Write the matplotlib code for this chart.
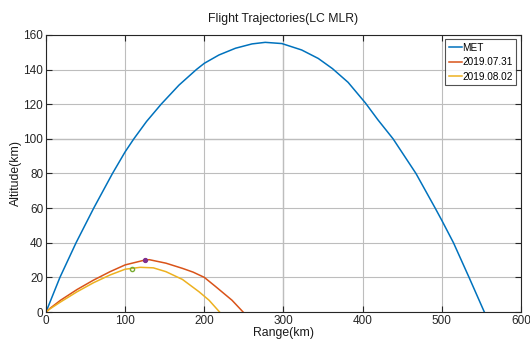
import matplotlib
matplotlib.use("Agg")
import matplotlib.pyplot as plt

# ---- data ----
met_x = [0, 17.6, 38, 60.3, 84, 100, 111, 127, 145.5, 168, 190, 200, 218.5, 239.4, 260.3, 277,
         298, 323, 344, 362, 381.7, 398.4, 403.4, 419.3, 438.5, 467.4, 491.7, 500, 514.8, 534.5, 553.8]
met_y = [0, 20, 40, 60, 80, 92.5, 100, 110, 120, 131, 140, 143.6, 148.4, 152.3, 154.8, 155.7,
         155, 151.3, 146.4, 140.5, 132.6, 123.5, 120.8, 111, 100, 80, 60, 53, 40, 20, 0]

d0731_x = [0, 5, 18.4, 39.3, 60, 81, 100, 125, 130.6, 151.5, 172.4, 186, 200, 214, 235, 249]
d0731_y = [0, 2.1, 6.8, 13, 18.4, 23.3, 27.2, 30, 30.2, 28.2, 25.2, 23.0, 20, 14.8, 6.8, 0]

d0802_x = [0, 5, 18.4, 39.3, 60, 81, 100, 119, 135.6, 151.5, 172.4, 193.3, 206, 219.3]
d0802_y = [0, 1.8, 5.8, 11.7, 16.9, 21.4, 24.7, 25.8, 25.5, 23.3, 18.8, 11.7, 6.8, 0]

apex_0731 = (125, 30)
apex_0802 = (109, 25)

labels = ["MET", "2019.07.31", "2019.08.02"]
xticks = [0, 100, 200, 300, 400, 500, 600]
yticks = [0, 20, 40, 60, 80, 100, 120, 140, 160]

plt.rcParams['font.family'] = ['Liberation Sans', 'DejaVu Sans']

fig = plt.figure(figsize=(5.3, 3.49), dpi=100)
ax = fig.add_axes([0.0868, 0.106, 0.896, 0.794])

ax.plot(met_x, met_y, color='#0072BD', lw=1.1, label=labels[0])
ax.plot(d0731_x, d0731_y, color='#D95319', lw=1.1, label=labels[1])
ax.plot(d0802_x, d0802_y, color='#EDB120', lw=1.1, label=labels[2])
ax.plot([apex_0731[0]], [apex_0731[1]], 'o', ms=3, mfc='#7E2F8E', mec='#7E2F8E', mew=0.8)
ax.plot([apex_0802[0]], [apex_0802[1]], 'o', ms=3, mfc='none', mec='#77AC30', mew=1.0)

ax.set_xlim(0, 600)
ax.set_ylim(0, 160)
ax.set_xticks(xticks)
ax.set_yticks(yticks)
ax.grid(True, color='#bdbdbd', lw=0.8)
ax.axvline(300, color='#3a3a3a', lw=0.8, zorder=0.5)
ax.axhline(100, color='#3a3a3a', lw=0.8, zorder=0.5)
ax.set_axisbelow(True)

ax.tick_params(direction='in', top=True, right=True, length=4, width=0.8,
               labelsize=8.5, pad=2, colors='#262626')
for s in ax.spines.values():
    s.set_color('#262626')
    s.set_linewidth(0.8)

ax.set_title("Flight Trajectories(LC MLR)", fontsize=8.8, pad=9, color='#1a1a1a')
ax.set_xlabel("Range(km)", fontsize=8.8, labelpad=0, color='#1a1a1a')
ax.set_ylabel("Altitude(km)", fontsize=8.8, labelpad=1, color='#1a1a1a')

leg = ax.legend(loc='upper right', fontsize=7.2, frameon=True, fancybox=False,
                handlelength=1.3, handletextpad=0.1, borderpad=0.35,
                labelspacing=0.45, borderaxespad=0.45, edgecolor='#262626')
leg.get_frame().set_linewidth(0.8)

fig.savefig("out.png", dpi=100)
